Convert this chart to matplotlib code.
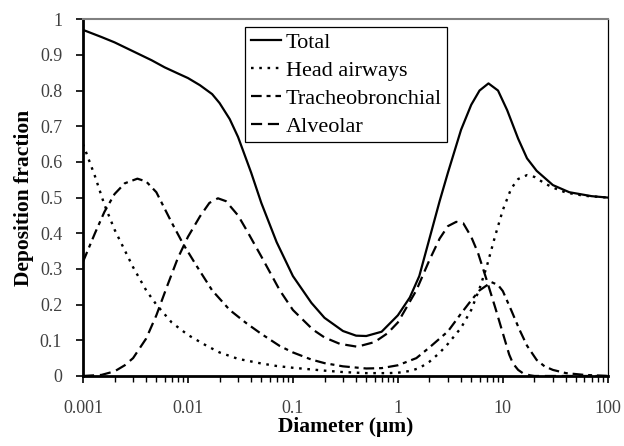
import matplotlib
matplotlib.use("Agg")
import matplotlib.pyplot as plt

plt.rcParams['font.family'] = ['Liberation Serif', 'DejaVu Serif']

# diameters (um) and deposition fractions
total_d = [0.001, 0.0015, 0.002, 0.003, 0.0045, 0.006, 0.008, 0.01, 0.013, 0.017,
           0.02, 0.025, 0.03, 0.04, 0.05, 0.07, 0.1, 0.15, 0.2, 0.3, 0.4, 0.5,
           0.7, 1.0, 1.3, 1.6, 2.0, 2.5, 3.0, 4.0, 5.0, 6.0, 7.3, 9.0, 11, 14,
           17, 21, 30, 43, 70, 100]
total_v = [0.97, 0.95, 0.935, 0.91, 0.885, 0.865, 0.848, 0.835, 0.815, 0.79,
           0.765, 0.72, 0.67, 0.57, 0.485, 0.375, 0.28, 0.205, 0.163, 0.126, 0.113, 0.112,
           0.124, 0.17, 0.22, 0.28, 0.385, 0.49, 0.57, 0.69, 0.76, 0.80, 0.82, 0.80, 0.745, 0.665,
           0.61, 0.575, 0.535, 0.515, 0.504, 0.50]

head_d = [0.001, 0.0013, 0.0016, 0.002, 0.003, 0.004, 0.005, 0.007, 0.01, 0.015,
          0.02, 0.03, 0.05, 0.07, 0.1, 0.2, 0.3, 0.5, 0.8, 1.0, 1.3, 1.6, 2.0,
          2.5, 3.0, 4.0, 5.0, 6.0, 7.0, 8.5, 10, 12, 14, 17, 20, 25, 30, 40, 60, 100]
head_v = [0.65, 0.56, 0.48, 0.41, 0.305, 0.24, 0.2, 0.15, 0.115, 0.085,
          0.066, 0.048, 0.035, 0.028, 0.023, 0.015, 0.011, 0.008, 0.008, 0.009, 0.014, 0.022, 0.04,
          0.065, 0.09, 0.135, 0.185, 0.245, 0.305, 0.395, 0.465, 0.525, 0.552, 0.563, 0.558, 0.54, 0.528, 0.514, 0.505, 0.50]

tb_d = [0.001, 0.0013, 0.0016, 0.002, 0.0025, 0.0033, 0.004, 0.005, 0.007, 0.009,
        0.012, 0.017, 0.025, 0.036, 0.05, 0.075, 0.1, 0.15, 0.2, 0.3, 0.5, 0.7,
        1.0, 1.5, 2.0, 3.0, 4.0, 5.0, 6.0, 7.8, 9.0, 10, 12, 14.4, 17, 21, 25,
        30, 40, 60, 100]
tb_v = [0.32, 0.40, 0.46, 0.51, 0.54, 0.553, 0.545, 0.515, 0.43, 0.37,
        0.31, 0.24, 0.185, 0.148, 0.118, 0.084, 0.066, 0.046, 0.036, 0.027, 0.021, 0.022,
        0.03, 0.05, 0.08, 0.125, 0.175, 0.212, 0.24, 0.263, 0.255, 0.238, 0.185, 0.13, 0.085, 0.045, 0.027,
        0.017, 0.008, 0.003, 0.0]

alv_d = [0.001, 0.0015, 0.002, 0.0025, 0.003, 0.004, 0.005, 0.0063, 0.008, 0.01,
         0.013, 0.016, 0.0193, 0.023, 0.03, 0.036, 0.05, 0.075, 0.1, 0.155, 0.2,
         0.28, 0.41, 0.6, 0.8, 1.0, 1.5, 2.0, 2.5, 3.0, 3.6, 4.2, 5.0, 5.8, 7.0,
         8.5, 10, 11.5, 12.5, 14, 15.5, 18, 20, 100]
alv_v = [0.0, 0.003, 0.013, 0.03, 0.05, 0.105, 0.17, 0.25, 0.33, 0.39,
         0.447, 0.485, 0.498, 0.49, 0.45, 0.41, 0.335, 0.24, 0.185, 0.13, 0.108,
         0.09, 0.082, 0.095, 0.12, 0.15, 0.24, 0.325, 0.385, 0.42, 0.432, 0.428, 0.39, 0.345, 0.27,
         0.19, 0.12, 0.06, 0.035, 0.017, 0.008, 0.002, 0.0, 0.0]

fig = plt.figure(figsize=(6.24, 4.46), dpi=100)
ax = fig.add_axes([0.133, 0.157, 0.841, 0.8])

ax.plot(total_d, total_v, color='black', lw=1.6, label='Total')
ax.plot(head_d, head_v, color='black', lw=1.7, linestyle=(0, (1.1, 2.4)), label='Head airways')
ax.plot(tb_d, tb_v, color='black', lw=1.6, linestyle=(0, (4.8, 2.2, 1.8, 2.2)), label='Tracheobronchial')
ax.plot(alv_d, alv_v, color='black', lw=1.6, linestyle=(0, (5, 2.6)), label='Alveolar')

ax.set_xscale('log')
ax.set_xlim(0.001, 100)
ax.set_ylim(0, 1)
ax.set_xticks([0.001, 0.01, 0.1, 1, 10, 100])
ax.set_xticklabels(['0.001', '0.01', '0.1', '1', '10', '100'])
ax.set_yticks([i / 10 for i in range(11)])
ax.set_yticklabels(['0', '0.1', '0.2', '0.3', '0.4', '0.5', '0.6', '0.7', '0.8', '0.9', '1'])

ax.tick_params(axis='both', which='major', direction='out', length=5, width=1.2,
               labelsize=13, colors='black', labelcolor='#404040')
ax.tick_params(axis='x', which='minor', direction='out', length=4, width=1)
ax.tick_params(axis='x', pad=12)
ax.tick_params(axis='y', pad=10)

for s in ['left', 'bottom']:
    ax.spines[s].set_linewidth(2)
    ax.spines[s].set_color('black')
ax.spines['top'].set_color('#808080')
ax.spines['top'].set_linewidth(1.5)
ax.spines['right'].set_color('black')
ax.spines['right'].set_linewidth(0.9)

ax.set_xlabel('Diameter (μm)', fontsize=15.5, fontweight='bold', labelpad=0)
ax.set_ylabel('Deposition fraction', fontsize=15.5, fontweight='bold', labelpad=4)

leg = ax.legend(loc='upper left', bbox_to_anchor=(0.309, 0.978), fontsize=16,
                frameon=True, fancybox=False, edgecolor='black', framealpha=1,
                handlelength=1.35, handletextpad=0.22, borderpad=0.25, labelspacing=0.33,
                borderaxespad=0)
leg.get_frame().set_linewidth(0.9)

fig.savefig('out.png', dpi=100)
